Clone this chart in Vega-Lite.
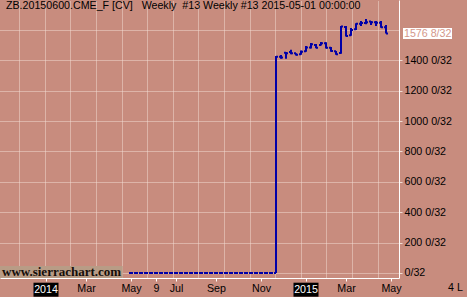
{
  "$schema": "https://vega.github.io/schema/vega-lite/v6.json",
  "width": 399,
  "height": 278,
  "autosize": "none",
  "padding": {"left": 0, "top": 0, "right": 68, "bottom": 19},
  "background": "#C88C7E",
  "config": {"view": {"stroke": null}, "text": {"font": "Liberation Sans"}},
  "datasets": {
    "bars": [
      {"d": "2014-05-05", "o": 0, "h": 0, "l": 0, "c": 0},
      {"d": "2014-05-12", "o": 0, "h": 0, "l": 0, "c": 0},
      {"d": "2014-05-19", "o": 0, "h": 0, "l": 0, "c": 0},
      {"d": "2014-05-26", "o": 0, "h": 0, "l": 0, "c": 0},
      {"d": "2014-06-02", "o": 0, "h": 0, "l": 0, "c": 0},
      {"d": "2014-06-09", "o": 0, "h": 0, "l": 0, "c": 0},
      {"d": "2014-06-16", "o": 0, "h": 0, "l": 0, "c": 0},
      {"d": "2014-06-23", "o": 0, "h": 0, "l": 0, "c": 0},
      {"d": "2014-06-30", "o": 0, "h": 0, "l": 0, "c": 0},
      {"d": "2014-07-07", "o": 0, "h": 0, "l": 0, "c": 0},
      {"d": "2014-07-14", "o": 0, "h": 0, "l": 0, "c": 0},
      {"d": "2014-07-21", "o": 0, "h": 0, "l": 0, "c": 0},
      {"d": "2014-07-28", "o": 0, "h": 0, "l": 0, "c": 0},
      {"d": "2014-08-04", "o": 0, "h": 0, "l": 0, "c": 0},
      {"d": "2014-08-11", "o": 0, "h": 0, "l": 0, "c": 0},
      {"d": "2014-08-18", "o": 0, "h": 0, "l": 0, "c": 0},
      {"d": "2014-08-25", "o": 0, "h": 0, "l": 0, "c": 0},
      {"d": "2014-09-01", "o": 0, "h": 0, "l": 0, "c": 0},
      {"d": "2014-09-08", "o": 0, "h": 0, "l": 0, "c": 0},
      {"d": "2014-09-15", "o": 0, "h": 0, "l": 0, "c": 0},
      {"d": "2014-09-22", "o": 0, "h": 0, "l": 0, "c": 0},
      {"d": "2014-09-29", "o": 0, "h": 0, "l": 0, "c": 0},
      {"d": "2014-10-06", "o": 0, "h": 0, "l": 0, "c": 0},
      {"d": "2014-10-13", "o": 0, "h": 0, "l": 0, "c": 0},
      {"d": "2014-10-20", "o": 0, "h": 0, "l": 0, "c": 0},
      {"d": "2014-10-27", "o": 0, "h": 0, "l": 0, "c": 0},
      {"d": "2014-11-03", "o": 0, "h": 0, "l": 0, "c": 0},
      {"d": "2014-11-10", "o": 0, "h": 0, "l": 0, "c": 0},
      {"d": "2014-11-17", "o": 0, "h": 0, "l": 0, "c": 0},
      {"d": "2014-11-24", "o": 0, "h": 1429, "l": 0, "c": 1424},
      {"d": "2014-12-01", "o": 1424, "h": 1435, "l": 1411, "c": 1418},
      {"d": "2014-12-08", "o": 1450, "h": 1455, "l": 1411, "c": 1446},
      {"d": "2014-12-15", "o": 1455, "h": 1470, "l": 1440, "c": 1446},
      {"d": "2014-12-22", "o": 1446, "h": 1446, "l": 1431, "c": 1437},
      {"d": "2014-12-29", "o": 1440, "h": 1464, "l": 1437, "c": 1457},
      {"d": "2015-01-05", "o": 1460, "h": 1494, "l": 1457, "c": 1485},
      {"d": "2015-01-12", "o": 1485, "h": 1514, "l": 1477, "c": 1505},
      {"d": "2015-01-19", "o": 1500, "h": 1508, "l": 1479, "c": 1482},
      {"d": "2015-01-26", "o": 1500, "h": 1521, "l": 1497, "c": 1512},
      {"d": "2015-02-02", "o": 1512, "h": 1519, "l": 1477, "c": 1482},
      {"d": "2015-02-09", "o": 1482, "h": 1488, "l": 1457, "c": 1461},
      {"d": "2015-02-16", "o": 1459, "h": 1461, "l": 1437, "c": 1440},
      {"d": "2015-02-23", "o": 1448, "h": 1626, "l": 1444, "c": 1622},
      {"d": "2015-03-02", "o": 1620, "h": 1626, "l": 1556, "c": 1560},
      {"d": "2015-03-09", "o": 1565, "h": 1613, "l": 1562, "c": 1600},
      {"d": "2015-03-16", "o": 1605, "h": 1644, "l": 1600, "c": 1640},
      {"d": "2015-03-23", "o": 1640, "h": 1659, "l": 1626, "c": 1645},
      {"d": "2015-03-30", "o": 1645, "h": 1672, "l": 1637, "c": 1650},
      {"d": "2015-04-06", "o": 1655, "h": 1659, "l": 1633, "c": 1650},
      {"d": "2015-04-13", "o": 1650, "h": 1659, "l": 1626, "c": 1648},
      {"d": "2015-04-20", "o": 1648, "h": 1659, "l": 1615, "c": 1617},
      {"d": "2015-04-27", "o": 1617, "h": 1633, "l": 1576, "c": 1576.25}
    ],
    "years": [
      {"d": "2014-01-06", "t": "2014"},
      {"d": "2015-01-05", "t": "2015"}
    ],
    "price": [{"p": 1576.25, "t": "1576 8/32"}]
  },
  "resolve": {"axis": {"x": "independent", "y": "independent"}},
  "layer": [
    {
      "data": {"name": "bars"},
      "mark": {"type": "rule", "strokeWidth": 2, "color": "#0000A8"},
      "encoding": {
        "x": {
          "field": "d", "type": "temporal",
          "scale": {"type": "utc", "domain": [1383402240000, 1431665280000]},
          "axis": {
            "orient": "bottom",
            "values": [1388966400000, 1393804800000, 1399248000000, 1402272000000, 1404691200000, 1409529600000, 1414972800000, 1420416000000, 1425254400000, 1430697600000],
            "labelExpr": "utcFormat(datum.value,'%b') == 'Jan' ? '' : (utcFormat(datum.value,'%b') == 'Jun' ? utcFormat(datum.value,'%-d') : utcFormat(datum.value,'%b'))",
            "grid": false,
            "domainColor": "#FFFFFF",
            "domainWidth": 1,
            "tickColor": "#FFFFFF",
            "tickSize": 3,
            "labelPadding": 2,
            "labelFont": "Liberation Sans",
            "labelFontSize": 10.67,
            "labelColor": "#000000",
            "labelOverlap": false,
            "labelFlush": false,
            "labelBound": false,
            "title": null
          }
        },
        "y": {
          "field": "l", "type": "quantitative",
          "scale": {"domain": [-33, 1797], "nice": false, "zero": false},
          "axis": {
            "orient": "right",
            "values": [0, 200, 400, 600, 800, 1000, 1200, 1400, 1600],
            "labelExpr": "datum.value == 1600 ? '' : (datum.value == 0 ? '0/32' : datum.value + ' 0/32')",
            "grid": true,
            "gridColor": "#F2DCD2",
            "gridDash": [1, 1],
            "domainColor": "#FFFFFF",
            "domainWidth": 1,
            "tickColor": {"condition": {"test": "datum.value == 1600", "value": "transparent"}, "value": "#F0DCD2"},
            "tickSize": 3,
            "labelPadding": 2,
            "labelFont": "Liberation Sans",
            "labelFontSize": 10.67,
            "labelColor": "#000000",
            "labelOverlap": false,
            "labelBound": false,
            "title": null
          }
        },
        "y2": {"field": "h"}
      }
    },
    {
      "data": {"name": "bars"},
      "mark": {"type": "tick", "orient": "horizontal", "size": 2, "thickness": 2, "xOffset": -1, "color": "#0000A8", "opacity": 1},
      "encoding": {
        "x": {
          "field": "d", "type": "temporal",
          "axis": {
            "orient": "top",
            "values": [1385735040000, 1388831616000, 1391928192000, 1395024768000, 1398121344000, 1401217920000, 1404314496000, 1407411072000, 1410507648000, 1413604224000, 1416700800000, 1419797376000, 1422893952000, 1425990528000, 1429087104000],
            "grid": true,
            "gridColor": "#F2DCD2",
            "gridDash": [1, 1],
            "labels": false,
            "ticks": false,
            "domain": false,
            "title": null
          }
        },
        "y": {"field": "o", "type": "quantitative", "axis": null}
      }
    },
    {
      "data": {"name": "bars"},
      "mark": {"type": "tick", "orient": "horizontal", "size": 2, "thickness": 2, "xOffset": 1, "color": "#0000A8", "opacity": 1},
      "encoding": {
        "x": {"field": "d", "type": "temporal", "axis": null},
        "y": {"field": "c", "type": "quantitative", "axis": null}
      }
    },
    {
      "data": {"name": "price"},
      "mark": {"type": "point", "shape": "M-1,-0.2245H1V0.2245H-1Z", "size": 2401, "filled": true, "color": "#FFFFFF", "opacity": 1, "strokeWidth": 0, "xOffset": 28.5},
      "encoding": {
        "x": {"value": "width"},
        "y": {"field": "p", "type": "quantitative", "axis": null}
      }
    },
    {
      "data": {"name": "price"},
      "mark": {"type": "text", "align": "left", "baseline": "middle", "dx": 5, "fontSize": 10.67, "color": "#D4978A"},
      "encoding": {
        "x": {"value": "width"},
        "y": {"field": "p", "type": "quantitative", "axis": null},
        "text": {"field": "t"}
      }
    },
    {
      "data": {"name": "years"},
      "mark": {"type": "point", "shape": "M-1,-0.56H1V0.56H-1Z", "size": 625, "filled": true, "color": "#000000", "opacity": 1, "strokeWidth": 0, "yOffset": 11.7},
      "encoding": {
        "x": {"field": "d", "type": "temporal", "axis": null},
        "y": {"value": "height"}
      }
    },
    {
      "data": {"name": "years"},
      "mark": {"type": "text", "align": "center", "baseline": "middle", "dy": 11.5, "fontSize": 10.67, "color": "#FFFFFF"},
      "encoding": {
        "x": {"field": "d", "type": "temporal", "axis": null},
        "y": {"value": "height"},
        "text": {"field": "t"}
      }
    },
    {
      "data": {"values": [{}]},
      "mark": {"type": "rect", "color": "#B89C86"},
      "encoding": {
        "x": {"value": 0},
        "x2": {"value": 122.7},
        "y": {"value": 266},
        "y2": {"value": "height"}
      }
    },
    {
      "data": {"values": [{}]},
      "mark": {"type": "text", "align": "left", "baseline": "alphabetic", "font": "Liberation Serif", "fontWeight": "bold", "fontSize": 13, "color": "#140E0A"},
      "encoding": {
        "x": {"value": 2},
        "y": {"value": 275.5},
        "text": {"value": "www.sierrachart.com"}
      }
    },
    {
      "data": {"values": [{}]},
      "mark": {"type": "text", "align": "left", "baseline": "top", "dx": 6, "dy": 1, "fontSize": 10.67, "color": "#000000"},
      "encoding": {
        "x": {"value": 0},
        "y": {"value": 0},
        "text": {"value": "ZB.20150600.CME_F [CV]\u00a0\u00a0\u00a0Weekly\u00a0\u00a0#13 Weekly #13 2015-05-01 00:00:00"}
      }
    },
    {
      "data": {"values": [{}]},
      "mark": {"type": "text", "align": "left", "baseline": "middle", "dx": 49, "dy": 10, "fontSize": 10.67, "color": "#000000"},
      "encoding": {
        "x": {"value": "width"},
        "y": {"value": "height"},
        "text": {"value": "4 L"}
      }
    }
  ]
}
